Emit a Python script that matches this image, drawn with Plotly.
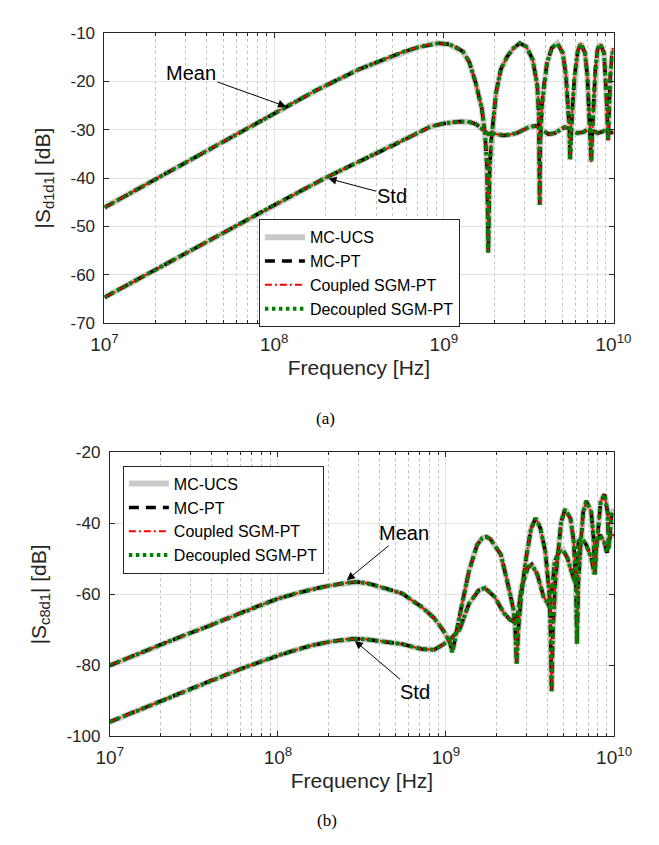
import plotly.graph_objects as go

# ---------------- data ----------------
# frequencies are stored as log10(f / Hz)
A_MEAN_EXP = [7.0, 7.25, 7.5, 7.75, 8.0, 8.07, 8.25, 8.5, 8.65, 8.75, 8.85, 8.925, 8.97, 9.03,
              9.07, 9.112, 9.15, 9.187, 9.224, 9.243, 9.255, 9.262, 9.27, 9.28, 9.29, 9.308,
              9.336, 9.374, 9.411, 9.448, 9.486, 9.524, 9.551, 9.56, 9.565, 9.568, 9.578,
              9.589, 9.608, 9.636, 9.669, 9.701, 9.72, 9.733, 9.74, 9.744, 9.749, 9.757,
              9.77, 9.789, 9.807, 9.832, 9.846, 9.856, 9.864, 9.869, 9.874, 9.882, 9.893,
              9.906, 9.921, 9.944, 9.953, 9.962, 9.968, 9.974, 9.981, 9.991, 10.0]
A_MEAN_DB = [-46.1, -41.2, -36.3, -31.4, -26.6, -25.2, -21.8, -17.5, -15.4, -14.0, -12.9, -12.3,
             -12.1, -12.3, -12.9, -13.8, -16.0, -20.2, -25.6, -31.0, -38.0, -55.4, -38.0, -32.0,
             -29.0, -22.3, -17.5, -14.8, -13.1, -12.1, -12.8, -15.5, -20.9, -27.0, -45.6, -33.0,
             -25.0, -21.0, -16.2, -13.1, -12.1, -14.1, -18.9, -25.6, -30.0, -36.3, -30.0, -26.0,
             -18.9, -13.8, -12.1, -14.1, -18.9, -25.6, -31.0, -36.7, -31.0, -25.6, -17.5,
             -13.4, -12.2, -14.1, -18.9, -25.6, -32.2, -25.0, -18.9, -14.8, -13.1]

A_STD_EXP = [7.0, 7.25, 7.5, 7.75, 8.0, 8.3, 8.5, 8.7, 8.85, 8.925, 9.0, 9.094, 9.15, 9.187,
             9.215, 9.234, 9.262, 9.28, 9.32, 9.355, 9.39, 9.43, 9.47, 9.505, 9.542, 9.565,
             9.58, 9.617, 9.654, 9.692, 9.71, 9.728, 9.748, 9.785, 9.822, 9.85, 9.878, 9.906,
             9.934, 9.962, 9.98, 10.0]
A_STD_DB = [-64.7, -60.0, -55.2, -50.4, -45.6, -40.0, -36.6, -33.3, -30.6, -29.3, -28.7, -28.3,
            -28.4, -28.8, -29.5, -30.2, -30.9, -30.7, -31.0, -31.2, -31.0, -30.7, -30.0, -29.4,
            -29.2, -29.7, -30.0, -30.9, -30.7, -30.0, -29.5, -29.6, -30.0, -30.7, -30.5, -29.9,
            -30.2, -30.7, -30.4, -30.0, -30.6, -30.5]

B_MEAN_EXP = [7.0, 7.2, 7.4, 7.6, 7.8, 8.0, 8.1, 8.2, 8.3, 8.4, 8.47, 8.534, 8.62, 8.685, 8.741,
              8.798, 8.855, 8.93, 8.987, 9.024, 9.037, 9.05, 9.071, 9.1, 9.137, 9.185, 9.215,
              9.241, 9.265, 9.289, 9.326, 9.364, 9.402, 9.412, 9.42, 9.43, 9.449, 9.477, 9.506,
              9.534, 9.562, 9.591, 9.615, 9.622, 9.628, 9.636, 9.652, 9.666, 9.685, 9.709,
              9.741, 9.76, 9.773, 9.779, 9.787, 9.798, 9.816, 9.835, 9.864, 9.878, 9.886,
              9.893, 9.901, 9.92, 9.943, 9.962, 9.968, 9.977, 9.986, 10.0]
B_MEAN_DB = [-80.0, -76.1, -72.3, -68.7, -64.8, -61.2, -59.8, -58.6, -57.6, -56.8, -56.5, -56.9,
             -58.0, -58.9, -59.8, -61.7, -63.5, -66.7, -70.4, -73.6, -76.3, -73.5, -69.0, -61.7,
             -53.4, -46.1, -44.2, -43.8, -44.5, -46.1, -48.8, -56.2, -64.4, -70.0, -79.5, -70.0,
             -59.8, -49.7, -41.5, -38.5, -41.5, -47.9, -59.8, -70.0, -87.3, -70.0, -55.0, -48.8,
             -39.6, -36.0, -38.7, -45.1, -57.0, -74.0, -57.0, -47.9, -36.9, -33.7, -36.9, -44.2,
             -54.3, -48.0, -43.3, -34.1, -31.8, -37.0, -47.0, -40.0, -37.0, -36.3]

B_STD_EXP = [7.0, 7.2, 7.4, 7.6, 7.8, 8.0, 8.1, 8.2, 8.3, 8.4, 8.457, 8.534, 8.685, 8.741, 8.855,
             8.93, 8.987, 9.024, 9.081, 9.137, 9.194, 9.232, 9.289, 9.345, 9.383, 9.402, 9.42,
             9.435, 9.449, 9.487, 9.51, 9.543, 9.581, 9.6, 9.615, 9.628, 9.647, 9.675, 9.694,
             9.722, 9.75, 9.769, 9.779, 9.788, 9.807, 9.835, 9.864, 9.883, 9.893, 9.901, 9.916,
             9.94, 9.958, 9.977, 10.0]
B_STD_DB = [-95.9, -92.0, -88.1, -84.3, -80.6, -77.2, -75.7, -74.4, -73.4, -72.7, -72.5, -72.7,
            -73.6, -74.0, -75.4, -75.6, -74.0, -72.7, -69.9, -62.6, -58.9, -58.2, -60.7, -65.3,
            -67.2, -67.6, -68.5, -63.0, -58.0, -52.5, -51.6, -54.3, -60.7, -62.1, -63.5, -60.0,
            -50.7, -47.9, -47.4, -49.7, -54.3, -57.0, -52.0, -45.1, -44.2, -46.1, -49.7, -54.3,
            -47.0, -44.7, -43.3, -45.1, -48.3, -43.3, -43.3]

METHODS = ["MC-UCS", "MC-PT", "Coupled SGM-PT", "Decoupled SGM-PT"]

A_YTICKS = [-70, -60, -50, -40, -30, -20, -10]
B_YTICKS = [-100, -80, -60, -40, -20]
X_DECADES = [7, 8, 9, 10]

# ---------------- styles ----------------
STYLES = {
    "MC-UCS": dict(color="#c9c9c9", width=6),
    "MC-PT": dict(color="black", width=3.5, dash="10px,7px"),
    "Coupled SGM-PT": dict(color="#ff0000", width=2, dash="7px,3px,2px,3px"),
    "Decoupled SGM-PT": dict(color="#008000", width=4, dash="3.5px,3.5px"),
}

FONT = "Liberation Sans, Arial, Helvetica, sans-serif"
AXC = "#262626"


def hz(exps):
    return [10 ** e for e in exps]


fig = go.Figure()

panels = [
    ("x", "y", "legend", A_MEAN_EXP, A_MEAN_DB, A_STD_EXP, A_STD_DB),
    ("x2", "y2", "legend2", B_MEAN_EXP, B_MEAN_DB, B_STD_EXP, B_STD_DB),
]
for xa, ya, leg, mx, my, sx, sy in panels:
    for m in METHODS:
        for k, (fx, fy) in enumerate([(mx, my), (sx, sy)]):
            fig.add_trace(go.Scatter(
                x=hz(fx), y=fy, mode="lines", name=m, line=STYLES[m],
                xaxis=xa, yaxis=ya, legend=leg, legendgroup=leg + m,
                showlegend=(k == 0), hoverinfo="skip"))

minor_vals = [d * 10 ** p for p in X_DECADES[:-1] for d in range(2, 10)]

xcommon = dict(
    type="log", range=[X_DECADES[0], X_DECADES[-1]],
    tickvals=[10 ** p for p in X_DECADES],
    ticktext=["10<sup>%d</sup>" % p for p in X_DECADES],
    ticks="inside", ticklen=5, tickcolor=AXC, tickwidth=1,
    showline=True, linecolor=AXC, linewidth=1, mirror="ticks",
    showgrid=True, gridcolor="#e2e2e2", gridwidth=1, zeroline=False,
    tickfont=dict(family=FONT, size=19, color=AXC),
    ticklabelstandoff=4,
    minor=dict(tickmode="array", tickvals=minor_vals, ticks="inside", ticklen=3,
               tickcolor=AXC, showgrid=True, gridcolor="#c4c4c4", griddash="dot",
               gridwidth=1),
    title=dict(text="Frequency [Hz]", font=dict(family=FONT, size=21, color=AXC), standoff=6),
)

ycommon = dict(
    ticks="inside", ticklen=5, tickcolor=AXC, tickwidth=1,
    showline=True, linecolor=AXC, linewidth=1, mirror="ticks",
    showgrid=True, gridcolor="#e2e2e2", gridwidth=1, zeroline=False,
    tickfont=dict(family=FONT, size=17, color=AXC),
    ticklabelstandoff=5,
)

W, H = 659, 845
LEGFONT = dict(family=FONT, size=16, color="black")
fig.update_layout(
    width=W, height=H, margin=dict(l=0, r=0, t=0, b=0),
    paper_bgcolor="white", plot_bgcolor="white",
    showlegend=True,
    xaxis=dict(xcommon, domain=[86.7 / W, 621.7 / W], anchor="y"),
    yaxis=dict(ycommon, domain=[1 - 313 / H, 1 - 16.5 / H], anchor="x",
               range=[A_YTICKS[0], A_YTICKS[-1]], tickvals=A_YTICKS,
               ticktext=[str(v) for v in A_YTICKS],
               title=dict(text="|S<sub>d1d1</sub>| [dB]",
                          font=dict(family=FONT, size=21, color=AXC), standoff=14)),
    xaxis2=dict(xcommon, domain=[92.3 / W, 622.3 / W], anchor="y2"),
    yaxis2=dict(ycommon, domain=[1 - 736 / H, 1 - 445.3 / H], anchor="x2",
                range=[B_YTICKS[0], B_YTICKS[-1]], tickvals=B_YTICKS,
                ticktext=[str(v) for v in B_YTICKS],
                title=dict(text="|S<sub>c8d1</sub>| [dB]",
                           font=dict(family=FONT, size=21, color=AXC), standoff=14)),
    legend=dict(x=249 / W, y=1 - 207 / H, xanchor="left", yanchor="top",
                bgcolor="white", bordercolor=AXC, borderwidth=1,
                font=LEGFONT, itemwidth=40, tracegroupgap=0),
    legend2=dict(x=106 / W, y=1 - 459 / H, xanchor="left", yanchor="top",
                 bgcolor="white", bordercolor=AXC, borderwidth=1,
                 font=LEGFONT, itemwidth=40, tracegroupgap=0),
)

ann_font = dict(family=FONT, size=20, color="black")
# arrow annotations: (x-axis, y-axis, head log10 f, head dB, text, ax, ay)
ARROWS = [
    ("x", "y", 8.07, -25.2, "Mean", -95, -34),
    ("x", "y", 8.32, -40.1, "Std", 64, 17),
    ("x2", "y2", 8.41, -56.0, "Mean", 57, -47),
    ("x2", "y2", 8.458, -73.1, "Std", 60, 51),
]
for xr, yr, lx, dy, txt, ax, ay in ARROWS:
    fig.add_annotation(xref=xr, yref=yr, x=lx, y=dy, text=txt, showarrow=True,
                       ax=ax, ay=ay, arrowhead=2, arrowsize=1.6, arrowwidth=1,
                       arrowcolor="black", font=ann_font, standoff=0)

SERIF = dict(family="Liberation Serif, Times New Roman, serif", size=17, color="black")
fig.add_annotation(xref="paper", yref="paper", x=319 / W, y=1 - 411 / H, text="(a)",
                   showarrow=False, font=SERIF)
fig.add_annotation(xref="paper", yref="paper", x=321 / W, y=1 - 834 / H, text="(b)",
                   showarrow=False, font=SERIF)

fig.write_html("out.html")
